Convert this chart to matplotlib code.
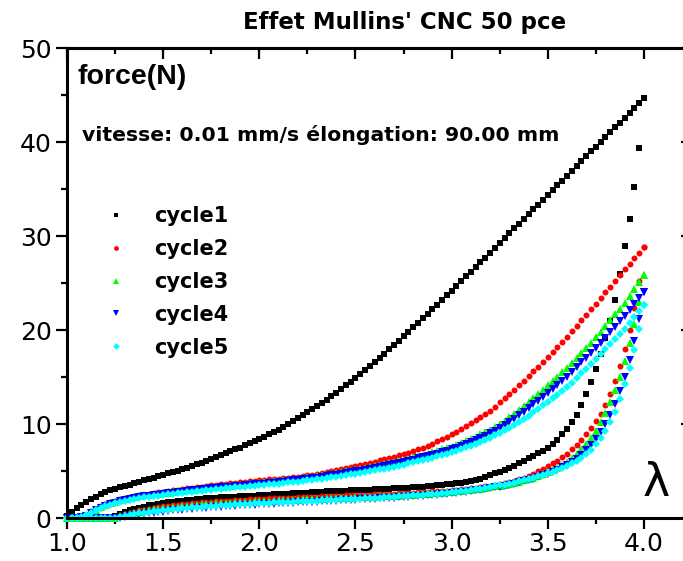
import matplotlib
matplotlib.use("Agg")
import matplotlib.pyplot as plt
import numpy as np
from matplotlib.ticker import MultipleLocator, NullFormatter
from matplotlib.font_manager import FontProperties

plt.rcParams["font.family"] = ["DejaVu Sans"]

# strain grid: lambda from 1.0 to 4.0 every 0.025
LAMBDA = np.linspace(1.0, 4.0, 121)

# cycle 1 (black squares), loading then unloading, force in N
C1_UP = [
    0.20, 0.65, 1.05, 1.40, 1.70, 2.00, 2.27, 2.55, 2.80, 2.97,
    3.12, 3.26, 3.40, 3.55, 3.70, 3.85, 4.00, 4.15, 4.30, 4.45,
    4.60, 4.75, 4.90, 5.05, 5.20, 5.37, 5.55, 5.72, 5.90, 6.10,
    6.30, 6.50, 6.70, 6.90, 7.10, 7.30, 7.50, 7.72, 7.95, 8.17,
    8.40, 8.65, 8.90, 9.15, 9.40, 9.70, 10.00, 10.30, 10.60, 10.92,
    11.25, 11.57, 11.90, 12.25, 12.60, 12.95, 13.30, 13.70, 14.10, 14.50,
    14.90, 15.32, 15.75, 16.17, 16.60, 17.05, 17.50, 17.95, 18.40, 18.87,
    19.35, 19.82, 20.30, 20.77, 21.25, 21.72, 22.20, 22.70, 23.20, 23.70,
    24.20, 24.70, 25.20, 25.70, 26.20, 26.70, 27.20, 27.70, 28.20, 28.72,
    29.25, 29.77, 30.30, 30.80, 31.30, 31.80, 32.30, 32.82, 33.35, 33.87,
    34.40, 34.90, 35.40, 35.90, 36.40, 36.92, 37.45, 37.97, 38.50, 39.00,
    39.50, 40.00, 40.50, 41.02, 41.55, 42.07, 42.60, 43.12, 43.65, 44.17,
    44.70,
]
C1_DOWN = [
    0.00, 0.00, 0.00, 0.00, 0.00, 0.00, 0.00, 0.00, 0.00, 0.05,
    0.25, 0.45, 0.65, 0.82, 0.97, 1.10, 1.22, 1.33, 1.43, 1.52,
    1.60, 1.67, 1.74, 1.80, 1.86, 1.91, 1.96, 2.01, 2.05, 2.09,
    2.13, 2.16, 2.19, 2.22, 2.25, 2.28, 2.31, 2.34, 2.36, 2.38,
    2.40, 2.44, 2.47, 2.51, 2.54, 2.57, 2.60, 2.62, 2.65, 2.68,
    2.71, 2.74, 2.76, 2.79, 2.82, 2.85, 2.88, 2.90, 2.92, 2.94,
    2.96, 2.98, 3.00, 3.02, 3.04, 3.07, 3.09, 3.12, 3.14, 3.17,
    3.20, 3.23, 3.27, 3.31, 3.35, 3.39, 3.43, 3.47, 3.52, 3.57,
    3.62, 3.68, 3.75, 3.82, 3.92, 4.05, 4.20, 4.38, 4.58, 4.75,
    4.92, 5.12, 5.35, 5.58, 5.82, 6.07, 6.33, 6.60, 6.90, 7.18,
    7.45, 7.85, 8.35, 8.90, 9.50, 10.20, 11.00, 12.00, 13.20, 14.50,
    15.90, 17.40, 19.10, 21.00, 23.20, 26.00, 28.90, 31.80, 35.20, 39.40,
    44.70,
]

# cycle 2 (red circles)
C2_UP = [
    0.00, 0.00, 0.05, 0.15, 0.35, 0.70, 1.00, 1.28, 1.50, 1.68,
    1.83, 1.97, 2.10, 2.20, 2.30, 2.40, 2.50, 2.58, 2.65, 2.73,
    2.80, 2.88, 2.95, 3.03, 3.10, 3.16, 3.23, 3.29, 3.35, 3.41,
    3.48, 3.54, 3.60, 3.65, 3.70, 3.75, 3.80, 3.85, 3.90, 3.95,
    4.00, 4.05, 4.10, 4.15, 4.20, 4.25, 4.30, 4.35, 4.40, 4.47,
    4.55, 4.62, 4.70, 4.80, 4.90, 5.00, 5.10, 5.20, 5.30, 5.40,
    5.50, 5.62, 5.75, 5.87, 6.00, 6.12, 6.25, 6.37, 6.50, 6.65,
    6.80, 6.95, 7.10, 7.30, 7.50, 7.70, 7.90, 8.15, 8.40, 8.65,
    8.90, 9.20, 9.50, 9.80, 10.10, 10.42, 10.75, 11.07, 11.40, 11.85,
    12.30, 12.75, 13.20, 13.67, 14.15, 14.62, 15.10, 15.60, 16.10, 16.60,
    17.10, 17.65, 18.20, 18.75, 19.30, 19.87, 20.45, 21.02, 21.60, 22.20,
    22.80, 23.40, 24.00, 24.62, 25.25, 25.87, 26.50, 27.07, 27.65, 28.22,
    28.80,
]
C2_DOWN = [
    0.00, 0.00, 0.00, 0.00, 0.00, 0.00, 0.00, 0.00, 0.00, 0.02,
    0.10, 0.25, 0.40, 0.55, 0.68, 0.80, 0.90, 0.99, 1.08, 1.17,
    1.25, 1.32, 1.38, 1.43, 1.48, 1.53, 1.57, 1.62, 1.66, 1.70,
    1.73, 1.77, 1.80, 1.83, 1.86, 1.89, 1.92, 1.95, 1.98, 2.00,
    2.03, 2.05, 2.08, 2.10, 2.12, 2.14, 2.16, 2.18, 2.20, 2.22,
    2.24, 2.26, 2.28, 2.30, 2.32, 2.34, 2.36, 2.38, 2.40, 2.41,
    2.43, 2.45, 2.47, 2.49, 2.51, 2.53, 2.55, 2.57, 2.59, 2.62,
    2.64, 2.67, 2.70, 2.73, 2.76, 2.79, 2.82, 2.85, 2.88, 2.92,
    2.96, 3.01, 3.06, 3.11, 3.17, 3.23, 3.29, 3.36, 3.43, 3.51,
    3.60, 3.70, 3.82, 3.95, 4.10, 4.27, 4.47, 4.70, 4.95, 5.22,
    5.50, 5.80, 6.10, 6.45, 6.85, 7.30, 7.80, 8.35, 8.95, 9.60,
    10.30, 11.10, 12.00, 13.20, 14.60, 16.20, 18.00, 20.00, 22.30, 25.20,
    28.80,
]

# cycle 3 (green triangles up)
C3_UP = [
    0.00, 0.00, 0.03, 0.10, 0.25, 0.55, 0.88, 1.17, 1.40, 1.58,
    1.73, 1.87, 2.00, 2.10, 2.20, 2.30, 2.40, 2.46, 2.53, 2.59,
    2.65, 2.71, 2.78, 2.84, 2.90, 2.96, 3.03, 3.09, 3.15, 3.20,
    3.25, 3.30, 3.35, 3.40, 3.45, 3.50, 3.55, 3.60, 3.65, 3.70,
    3.75, 3.80, 3.85, 3.90, 3.95, 4.01, 4.07, 4.14, 4.20, 4.26,
    4.32, 4.39, 4.45, 4.54, 4.62, 4.71, 4.80, 4.89, 4.97, 5.06,
    5.15, 5.24, 5.32, 5.41, 5.50, 5.61, 5.72, 5.84, 5.95, 6.07,
    6.20, 6.32, 6.45, 6.59, 6.72, 6.86, 7.00, 7.15, 7.30, 7.45,
    7.60, 7.80, 8.00, 8.20, 8.40, 8.65, 8.90, 9.15, 9.40, 9.72,
    10.05, 10.37, 10.70, 11.10, 11.50, 11.90, 12.30, 12.75, 13.20, 13.65,
    14.10, 14.57, 15.05, 15.52, 16.00, 16.52, 17.05, 17.57, 18.10, 18.67,
    19.25, 19.82, 20.40, 21.02, 21.65, 22.27, 22.90, 23.62, 24.35, 25.07,
    25.80,
]
C3_DOWN = [
    0.00, 0.00, 0.00, 0.00, 0.00, 0.00, 0.00, 0.00, 0.00, 0.00,
    0.05, 0.18, 0.32, 0.45, 0.56, 0.66, 0.75, 0.83, 0.91, 0.98,
    1.05, 1.11, 1.17, 1.22, 1.27, 1.32, 1.36, 1.40, 1.44, 1.48,
    1.51, 1.55, 1.58, 1.61, 1.64, 1.67, 1.70, 1.72, 1.75, 1.77,
    1.80, 1.82, 1.84, 1.86, 1.88, 1.90, 1.92, 1.94, 1.96, 1.98,
    2.00, 2.02, 2.04, 2.06, 2.08, 2.10, 2.12, 2.14, 2.16, 2.18,
    2.20, 2.22, 2.24, 2.26, 2.28, 2.30, 2.32, 2.34, 2.37, 2.39,
    2.42, 2.45, 2.48, 2.51, 2.54, 2.57, 2.61, 2.65, 2.69, 2.73,
    2.78, 2.83, 2.88, 2.94, 3.00, 3.06, 3.13, 3.20, 3.28, 3.36,
    3.45, 3.54, 3.64, 3.75, 3.87, 4.00, 4.14, 4.30, 4.47, 4.66,
    4.87, 5.10, 5.36, 5.65, 5.97, 6.33, 6.80, 7.30, 7.90, 8.55,
    9.30, 10.20, 11.20, 12.30, 13.60, 15.00, 16.70, 18.60, 20.60, 23.00,
    25.80,
]

# cycle 4 (blue triangles down)
C4_UP = [
    0.00, 0.00, 0.02, 0.08, 0.20, 0.48, 0.80, 1.08, 1.30, 1.47,
    1.62, 1.76, 1.90, 2.00, 2.10, 2.20, 2.30, 2.36, 2.43, 2.49,
    2.55, 2.61, 2.68, 2.74, 2.80, 2.86, 2.93, 2.99, 3.05, 3.10,
    3.15, 3.20, 3.25, 3.30, 3.35, 3.40, 3.45, 3.49, 3.54, 3.58,
    3.62, 3.67, 3.72, 3.77, 3.82, 3.88, 3.94, 3.99, 4.05, 4.11,
    4.18, 4.24, 4.30, 4.38, 4.45, 4.53, 4.60, 4.69, 4.78, 4.86,
    4.95, 5.04, 5.12, 5.21, 5.30, 5.40, 5.51, 5.61, 5.72, 5.84,
    5.96, 6.08, 6.20, 6.33, 6.46, 6.59, 6.72, 6.86, 7.01, 7.15,
    7.30, 7.48, 7.67, 7.86, 8.05, 8.28, 8.52, 8.76, 9.00, 9.30,
    9.60, 9.90, 10.20, 10.57, 10.95, 11.32, 11.70, 12.10, 12.50, 12.90,
    13.30, 13.74, 14.17, 14.61, 15.05, 15.55, 16.05, 16.55, 17.05, 17.59,
    18.12, 18.66, 19.20, 19.77, 20.35, 20.92, 21.50, 22.12, 22.75, 23.37,
    24.00,
]
C4_DOWN = [
    0.00, 0.00, 0.00, 0.00, 0.00, 0.00, 0.00, 0.00, 0.00, 0.00,
    0.00, 0.05, 0.12, 0.20, 0.28, 0.36, 0.43, 0.50, 0.57, 0.63,
    0.69, 0.75, 0.80, 0.85, 0.90, 0.95, 0.99, 1.03, 1.07, 1.11,
    1.15, 1.18, 1.22, 1.25, 1.28, 1.31, 1.34, 1.37, 1.40, 1.42,
    1.45, 1.48, 1.50, 1.53, 1.55, 1.58, 1.60, 1.62, 1.65, 1.67,
    1.70, 1.72, 1.74, 1.77, 1.79, 1.82, 1.84, 1.87, 1.89, 1.92,
    1.94, 1.97, 2.00, 2.02, 2.05, 2.08, 2.11, 2.14, 2.17, 2.20,
    2.23, 2.26, 2.30, 2.33, 2.37, 2.41, 2.45, 2.49, 2.54, 2.58,
    2.63, 2.68, 2.74, 2.80, 2.86, 2.93, 3.00, 3.08, 3.16, 3.25,
    3.34, 3.44, 3.55, 3.66, 3.78, 3.91, 4.05, 4.20, 4.36, 4.53,
    4.72, 4.92, 5.15, 5.40, 5.67, 5.97, 6.30, 6.70, 7.20, 7.75,
    8.40, 9.15, 10.00, 11.00, 12.10, 13.50, 15.00, 16.80, 18.80, 21.20,
    24.00,
]

# cycle 5 (cyan diamonds)
C5_UP = [
    0.00, 0.00, 0.05, 0.15, 0.30, 0.55, 0.82, 1.05, 1.25, 1.42,
    1.57, 1.72, 1.85, 1.94, 2.03, 2.12, 2.20, 2.26, 2.33, 2.39,
    2.45, 2.51, 2.58, 2.64, 2.70, 2.75, 2.81, 2.86, 2.92, 2.97,
    3.02, 3.07, 3.12, 3.16, 3.21, 3.25, 3.30, 3.34, 3.39, 3.43,
    3.48, 3.53, 3.57, 3.62, 3.67, 3.72, 3.78, 3.83, 3.88, 3.94,
    4.00, 4.06, 4.12, 4.19, 4.26, 4.33, 4.40, 4.48, 4.56, 4.64,
    4.72, 4.80, 4.89, 4.97, 5.06, 5.16, 5.26, 5.36, 5.46, 5.57,
    5.69, 5.80, 5.92, 6.04, 6.17, 6.29, 6.42, 6.56, 6.71, 6.85,
    7.00, 7.17, 7.35, 7.52, 7.70, 7.91, 8.12, 8.34, 8.55, 8.81,
    9.07, 9.34, 9.60, 9.92, 10.25, 10.57, 10.90, 11.26, 11.62, 11.99,
    12.35, 12.74, 13.12, 13.51, 13.90, 14.40, 14.90, 15.40, 15.90, 16.41,
    16.92, 17.44, 17.95, 18.49, 19.02, 19.56, 20.10, 20.75, 21.40, 22.05,
    22.70,
]
C5_DOWN = [
    0.00, 0.00, 0.00, 0.00, 0.00, 0.00, 0.00, 0.00, 0.00, 0.00,
    0.03, 0.12, 0.22, 0.32, 0.41, 0.50, 0.58, 0.65, 0.72, 0.78,
    0.84, 0.90, 0.95, 1.00, 1.05, 1.09, 1.13, 1.17, 1.21, 1.25,
    1.28, 1.32, 1.35, 1.38, 1.41, 1.44, 1.47, 1.50, 1.52, 1.55,
    1.57, 1.60, 1.62, 1.65, 1.67, 1.69, 1.72, 1.74, 1.76, 1.78,
    1.81, 1.83, 1.85, 1.88, 1.90, 1.92, 1.95, 1.97, 2.00, 2.02,
    2.05, 2.07, 2.10, 2.12, 2.15, 2.18, 2.21, 2.24, 2.27, 2.30,
    2.33, 2.37, 2.40, 2.44, 2.48, 2.52, 2.56, 2.60, 2.65, 2.70,
    2.75, 2.80, 2.86, 2.92, 2.98, 3.05, 3.12, 3.20, 3.28, 3.37,
    3.46, 3.56, 3.66, 3.77, 3.89, 4.01, 4.14, 4.28, 4.43, 4.59,
    4.76, 4.94, 5.13, 5.34, 5.57, 5.82, 6.10, 6.42, 6.78, 7.20,
    7.90, 8.55, 9.30, 10.20, 11.30, 12.70, 14.30, 16.00, 17.90, 20.10,
    22.70,
]

LABELS = ["cycle1", "cycle2", "cycle3", "cycle4", "cycle5"]
UP = [C1_UP, C2_UP, C3_UP, C4_UP, C5_UP]
DOWN = [C1_DOWN, C2_DOWN, C3_DOWN, C4_DOWN, C5_DOWN]
COLORS = ["#000000", "#ff0000", "#00ff00", "#0000ff", "#00ffff"]
MARKERS = ["s", "o", "^", "v", "D"]
SIZES = [4.0, 4.3, 5.4, 5.4, 4.3]

fig = plt.figure(figsize=(6.83, 5.61), dpi=100)
ax = fig.add_axes([67 / 683, 43 / 561, 625 / 683, 470 / 561])

for up, down, lab, col, mk, ms in zip(UP, DOWN, LABELS, COLORS, MARKERS, SIZES):
    x = np.concatenate([LAMBDA, LAMBDA[::-1]])
    y = np.concatenate([np.asarray(up), np.asarray(down)[::-1]])
    ax.plot(x, y, linestyle="none", marker=mk, ms=ms, color=col,
            markeredgewidth=0, label=lab, clip_on=False)

ax.set_xlim(1.0, 4.25)
ax.set_ylim(0, 50)

ax.xaxis.set_major_locator(MultipleLocator(0.5))
ax.xaxis.set_minor_locator(MultipleLocator(0.25))
ax.yaxis.set_major_locator(MultipleLocator(10))
ax.yaxis.set_minor_locator(MultipleLocator(5))
ax.xaxis.set_major_formatter(matplotlib.ticker.FormatStrFormatter("%.1f"))

for sp in ax.spines.values():
    sp.set_linewidth(2.2)

ax.tick_params(which="major", direction="out", length=8, width=1.6,
               labelsize=18, pad=2)
ax.tick_params(which="minor", direction="out", length=4.5, width=1.6)
ax.tick_params(axis="y", pad=3)

top = ax.secondary_xaxis("top")
top.xaxis.set_major_locator(MultipleLocator(0.5))
top.xaxis.set_minor_locator(MultipleLocator(0.25))
top.xaxis.set_major_formatter(NullFormatter())
top.tick_params(which="major", direction="in", length=8, width=1.6)
top.tick_params(which="minor", direction="in", length=4, width=1.6)
top.spines["top"].set_linewidth(2.2)

right = ax.secondary_yaxis("right")
right.yaxis.set_major_locator(MultipleLocator(10))
right.yaxis.set_minor_locator(MultipleLocator(5))
right.yaxis.set_major_formatter(NullFormatter())
right.tick_params(which="major", direction="in", length=8, width=1.6)
right.tick_params(which="minor", direction="in", length=4, width=1.6)

bold_dv = FontProperties(family="DejaVu Sans", weight="bold", size=15)
leg = ax.legend(loc="upper left", bbox_to_anchor=(106 / 683, 1 - 206 / 561),
                bbox_transform=fig.transFigure, frameon=False, prop=bold_dv,
                handlelength=1.0, handletextpad=1.3, labelspacing=0.62,
                borderpad=0, borderaxespad=0, numpoints=1, markerscale=0.8)

fig.text(405 / 683, 1 - 22 / 561, "Effet Mullins' CNC 50 pce", ha="center",
         va="center", fontsize=16.5, fontweight="bold", family="DejaVu Sans")
fig.text(78 / 683, 1 - 77 / 561, "force(N)", ha="left", va="center",
         fontsize=20.5, fontweight="bold", family="Liberation Sans")
fig.text(82 / 683, 1 - 135 / 561, "vitesse: 0.01 mm/s élongation: 90.00 mm",
         ha="left", va="center", fontsize=14.7, fontweight="bold",
         family="DejaVu Sans")
fig.text(656 / 683, 1 - 484 / 561, "λ", ha="center", va="center",
         fontsize=33, family="DejaVu Sans")

fig.savefig("out.png", dpi=100)
